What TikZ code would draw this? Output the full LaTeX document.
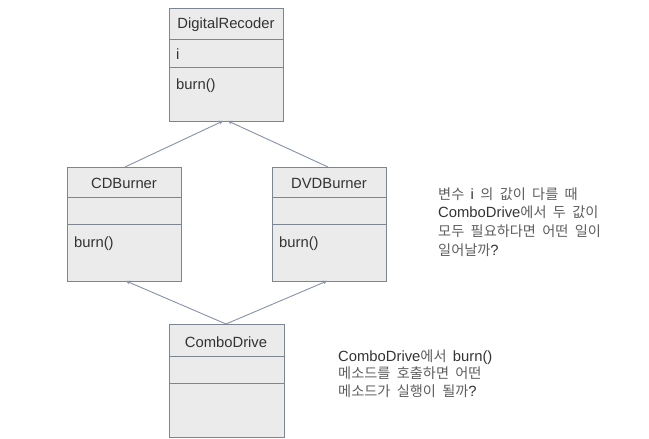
\documentclass[tikz,border=0pt]{standalone}
\usepackage{fontspec}
\setmainfont{Liberation Sans}
\newfontfamily\kr[WordSpace=2]{Noto Sans CJK KR}
\usetikzlibrary{arrows.meta}
\definecolor{boxfill}{HTML}{EBEBEB}
\definecolor{boxline}{HTML}{7C8590}
\definecolor{conn}{HTML}{8592A8}
\definecolor{txt}{HTML}{333333}
\definecolor{note}{HTML}{5E5E5E}
\newcommand\latw[1]{{\rmfamily\fontsize{14.8}{17}\selectfont\color{txt}#1}}
\tikzset{
  umlbox/.style={draw=boxline, fill=boxfill, line width=0.9pt},
  sep/.style={draw=boxline, line width=0.9pt},
  lbl/.style={inner sep=0pt, text=txt, font=\fontsize{14.8}{17}\selectfont},
  inh/.style={draw=conn, line width=0.9pt, -{Stealth[length=4pt,width=4pt]}},
  notetxt/.style={inner sep=0pt, text=note, align=left, anchor=base west, font=\kr\fontsize{14.2}{18.6}\selectfont}
}
\begin{document}
\begin{tikzpicture}[x=1pt,y=-1pt]
\useasboundingbox (0,0) rectangle (649,439);
% DigitalRecoder
\path[umlbox] (169,8) rectangle (283,121);
\draw[sep] (169,39) -- (283,39);
\draw[sep] (169,67) -- (283,67);
\node[lbl] (dr) at (226,25) {DigitalRecoder};
\node[lbl, anchor=west] (dri) at (176,54) {i};
\node[lbl, anchor=west] (drb) at (176,86) {burn()};
\coordinate (drbot) at (226,121);
% CDBurner
\path[umlbox] (67,167) rectangle (181,281);
\draw[sep] (67,197) -- (181,197);
\draw[sep] (67,224) -- (181,224);
\node[lbl] (cd) at (124,183) {CDBurner};
\node[lbl, anchor=west] (cdb) at (74,244) {burn()};
\coordinate (cdtop) at (125,167);
\coordinate (cdbot) at (126,281);
% DVDBurner
\path[umlbox] (272,167) rectangle (386,281);
\draw[sep] (272,197) -- (386,197);
\draw[sep] (272,224) -- (386,224);
\node[lbl] (dvd) at (329,183) {DVDBurner};
\node[lbl, anchor=west] (dvdb) at (279,244) {burn()};
\coordinate (dvdtop) at (328,167);
\coordinate (dvdbot) at (327,281);
% ComboDrive
\path[umlbox] (169,324) rectangle (284,437);
\draw[sep] (169,356) -- (284,356);
\draw[sep] (169,383) -- (284,383);
\node[lbl] (cb) at (226,342) {ComboDrive};
\coordinate (cbtop) at (226,324);
% connectors
\draw[inh] (cdtop) -- (223,121);
\draw[inh] (dvdtop) -- (228,121);
\draw[inh] (cbtop) -- (cdbot);
\draw[inh] (cbtop) -- (dvdbot);
% notes
\node[notetxt] (n1) at (438,255) {변수 \latw{i} 의 값이 다를 때\\\latw{ComboDrive}에서 두 값이\\모두 필요하다면 어떤 일이\\일어날까\latw{?}};
\node[notetxt, font=\kr\fontsize{14.2}{17.7}\selectfont] (n2) at (338,396.5) {\latw{ComboDrive}에서 \latw{burn()}\\메소드를 호출하면 어떤\\메소드가 실행이 될까\latw{?}};
\end{tikzpicture}
\end{document}
